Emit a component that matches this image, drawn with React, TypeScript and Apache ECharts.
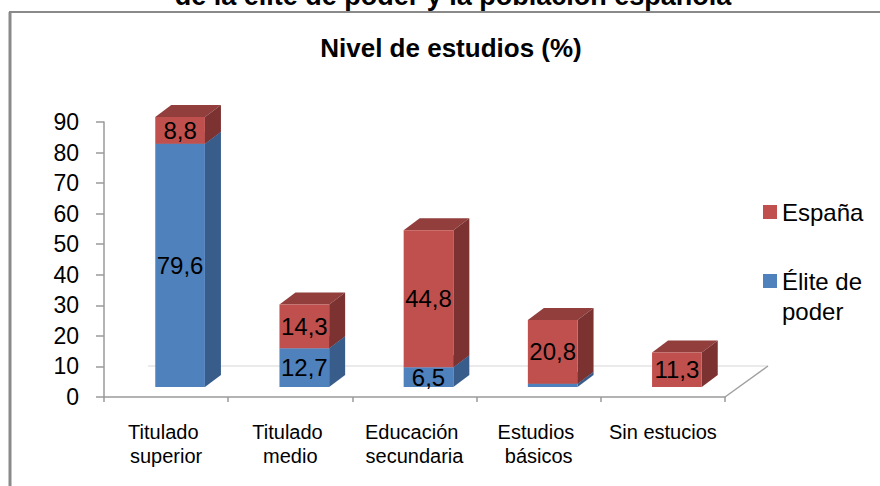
import React, { useEffect, useRef } from "react";
import * as echarts from "echarts";

const categories = [
  "Titulado superior",
  "Titulado medio",
  "Educación secundaria",
  "Estudios básicos",
  "Sin estucios",
];
const eliteValues = [79.6, 12.7, 6.5, 1.1, 0];
const espanaValues = [8.8, 14.3, 44.8, 20.8, 11.3];
const yMin = 0;
const yMax = 90;
const yStep = 10;
const seriesNames = ["Élite de poder", "España"];
const supTitle = "de la élite de poder y la población española";
const chartTitle = "Nivel de estudios (%)";

const FONT = "'Liberation Sans', Arial, sans-serif";

const fmt = (v: number) => v.toFixed(1).replace(".", ",");

function make3DRender(front: string, side: string, top: string) {
  const DX = 14; // shift of bar front face into depth
  const DY = -10;
  const DDX = 16; // bar depth
  const DDY = 12;
  return (params: any, api: any) => {
    const i = api.value(0);
    const base = api.value(1);
    const val = api.value(2);
    if (!(val > 0)) return { type: "group", children: [] };
    const p0 = api.coord([i, base]);
    const p1 = api.coord([i, base + val]);
    const w = api.size([1, 0])[0] * 0.4;
    const x0 = p0[0] + DX - w / 2;
    const x1 = x0 + w;
    const yb = p0[1] + DY;
    const yt = p1[1] + DY;
    const children: any[] = [
      {
        type: "polygon",
        shape: { points: [[x0, yt], [x1, yt], [x1 + DDX, yt - DDY], [x0 + DDX, yt - DDY]] },
        style: { fill: top },
      },
      {
        type: "polygon",
        shape: { points: [[x1, yb], [x1, yt], [x1 + DDX, yt - DDY], [x1 + DDX, yb - DDY]] },
        style: { fill: side },
      },
      {
        type: "rect",
        shape: { x: x0, y: yt, width: w, height: yb - yt },
        style: { fill: front },
      },
    ];
    if (val >= 3) {
      children.push({
        type: "text",
        x: (x0 + x1) / 2,
        y: (yt + yb) / 2,
        z2: 100,
        style: {
          text: fmt(val),
          fill: "#000",
          fontSize: 24,
          fontFamily: FONT,
          align: "center",
          verticalAlign: "middle",
        },
      });
    }
    return { type: "group", children };
  };
}

export default function App() {
  const ref = useRef<HTMLDivElement>(null);
  useEffect(() => {
    if (!ref.current) return;
    const chart = echarts.init(ref.current, undefined, { renderer: "svg" });
    const eliteData = categories.map((_, i) => [i, 0, eliteValues[i]]);
    const espanaData = categories.map((_, i) => [i, eliteValues[i], espanaValues[i]]);
    chart.setOption({
      animation: false,
      backgroundColor: "#fff",
      title: [
        {
          text: supTitle,
          left: 453,
          textAlign: "center",
          top: -18,
          padding: 0,
          textStyle: { fontSize: 27, fontWeight: "bold", fontFamily: FONT, color: "#000" },
        },
        {
          text: chartTitle,
          left: 451,
          textAlign: "center",
          top: 35,
          padding: 0,
          textStyle: { fontSize: 26, fontWeight: "bold", fontFamily: FONT, color: "#000" },
        },
      ],
      legend: {
        orient: "vertical",
        left: 763,
        top: 197,
        padding: 0,
        itemWidth: 14,
        itemHeight: 14,
        itemGap: 9,
        selectedMode: false,
        formatter: (name: string) => (name === seriesNames[0] ? "\nÉlite de\npoder" : name),
        textStyle: { fontSize: 24, fontFamily: FONT, color: "#000", lineHeight: 30 },
        data: [
          { name: seriesNames[1], icon: "rect" },
          { name: seriesNames[0], icon: "rect" },
        ],
      },
      grid: { left: 104, right: 155, top: 122, bottom: 89 },
      xAxis: {
        type: "category",
        data: categories,
        boundaryGap: true,
        axisLine: { lineStyle: { color: "#9a9a9a", width: 1.5 } },
        axisTick: { show: true, length: 5, lineStyle: { color: "#9a9a9a", width: 1.5 } },
        axisLabel: {
          interval: 0,
          margin: 23,
          fontSize: 20,
          lineHeight: 24,
          fontFamily: FONT,
          color: "#000",
          width: 118,
          overflow: "break",
        },
      },
      yAxis: {
        type: "value",
        min: yMin,
        max: yMax,
        interval: yStep,
        axisLine: { show: true, lineStyle: { color: "#9a9a9a", width: 1.5 } },
        axisTick: { show: true, length: 8, lineStyle: { color: "#9a9a9a", width: 1.5 } },
        splitLine: { show: false },
        axisLabel: { margin: 25, fontSize: 23, fontFamily: FONT, color: "#000" },
      },
      graphic: [
        {
          type: "line",
          z: 0,
          shape: { x1: 10, y1: 12, x2: 10, y2: 490 },
          style: { stroke: "#8a8a8a", lineWidth: 3 },
        },
        {
          type: "line",
          z: 0,
          shape: { x1: 9, y1: 12, x2: 890, y2: 12 },
          style: { stroke: "#8a8a8a", lineWidth: 2 },
        },
        {
          type: "line",
          z: 0,
          shape: { x1: 148, y1: 366, x2: 768, y2: 366 },
          style: { stroke: "#d6d6d6", lineWidth: 1 },
        },
        {
          type: "line",
          z: 0,
          shape: { x1: 725, y1: 397, x2: 768, y2: 366 },
          style: { stroke: "#a0a0a0", lineWidth: 1.5 },
        },
      ],
      series: [
        {
          name: seriesNames[0],
          type: "custom",
          itemStyle: { color: "#4f81bd" },
          encode: { x: 0, y: [1, 2] },
          renderItem: make3DRender("#4f81bd", "#385d8a", "#4672a8"),
          data: eliteData,
        },
        {
          name: seriesNames[1],
          type: "custom",
          itemStyle: { color: "#c0504d" },
          encode: { x: 0, y: [1, 2] },
          renderItem: make3DRender("#c0504d", "#7b3230", "#913e3c"),
          data: espanaData,
        },
      ],
    });
    return () => chart.dispose();
  }, []);
  return (
    <div
      ref={ref}
      style={{ position: "fixed", left: 0, top: 0, width: 880, height: 486, background: "#fff" }}
    />
  );
}
